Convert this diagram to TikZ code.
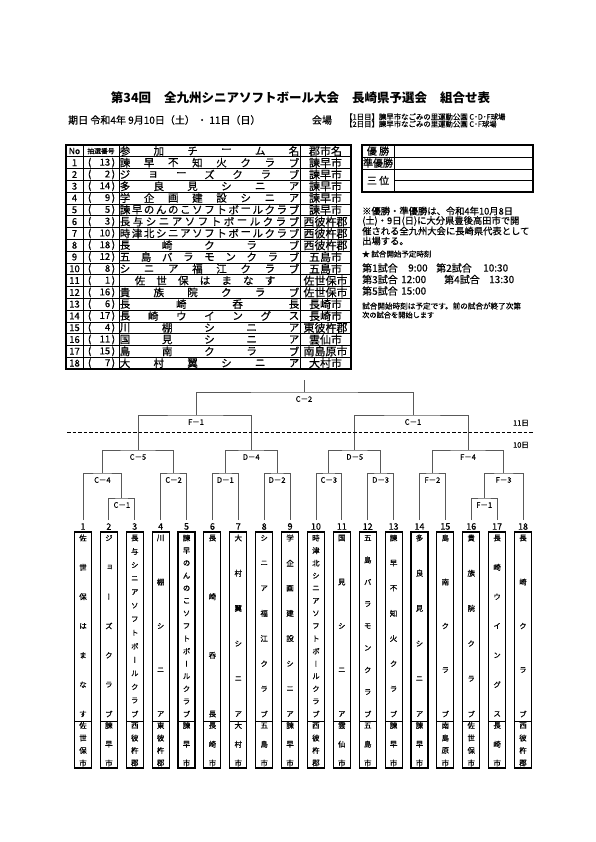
\documentclass[tikz,border=0pt]{standalone}
\usepackage{fontspec}
\setmainfont{Noto Sans CJK JP}
\newfontfamily\jpm[FakeBold=0.5]{Noto Sans CJK JP}
\newfontfamily\vjp[RawFeature=+vert,FakeBold=0.5]{Noto Sans CJK JP}
\usetikzlibrary{calc}

\newcommand\hdist[6]{%
  \edef\tmplist{#4}%
  \foreach \ch [count=\k] in \tmplist {\xdef\ncount{\k}}%
  \foreach \ch [count=\k] in \tmplist {%
    \pgfmathsetmacro\hx{#2+(#3-#2)*(\k-1)/max(\ncount-1,1)}%
    \node[#6] (#5-\k) at (\hx,#1) {\ch};
  }%
}
\newcommand\vdist[6]{%
  \edef\tmplist{#4}%
  \foreach \ch [count=\k] in \tmplist {\xdef\ncount{\k}}%
  \foreach \ch [count=\k] in \tmplist {%
    \pgfmathsetmacro\vy{#2+(#3-#2)*(\k-1)/max(\ncount-1,1)}%
    \node[#6] (#5-\k) at (#1,\vy) {\ch};
  }%
}

\tikzset{
  fs/.style={font=\jpm\fontsize{#1}{#1}\selectfont},
  tabtxt/.style={inner sep=0pt, fs=10.5},
  citytxt/.style={inner sep=0pt, fs=11},
  notxt/.style={inner sep=0pt, fs=9.5},
  boxtxt/.style={inner sep=0pt, font=\vjp\fontsize{7.5}{7.5}\selectfont},
  numtxt/.style={inner sep=0pt, fs=9},
  mlabel/.style={inner sep=0pt, fs=7.5},
  note/.style={inner sep=0pt, anchor=west},
  thinl/.style={line width=0.6pt, black},
  thickl/.style={line width=1.2pt, black},
  bline/.style={line width=0.8pt, black!65},
  leafbox/.style={draw=black, line width=1.1pt, minimum width=17pt, minimum height=236pt, inner sep=0pt, outer sep=0pt},
  boxline/.style={line width=0.9pt, black},
}

\begin{document}
\begin{tikzpicture}[x=1pt,y=-1pt]
\useasboundingbox (0,0) rectangle (595,842);
\fill[white] (0,0) rectangle (595,842);

% ---- title ----
\node[inner sep=0pt, font=\bfseries\fontsize{12.5}{12.5}\selectfont] (t1) at (131,98) {第34回};
\node[inner sep=0pt, font=\bfseries\fontsize{12.5}{12.5}\selectfont] (t2) at (251.5,98) {全九州シニアソフトボール大会};
\node[inner sep=0pt, font=\bfseries\fontsize{12.5}{12.5}\selectfont] (t3) at (389.5,98) {長崎県予選会};
\node[inner sep=0pt, font=\bfseries\fontsize{12.5}{12.5}\selectfont] (t4) at (465,98) {組合せ表};

\node[note, fs=10] (date) at (68,120) {期日 令和4年 9月10日（土） ・ 11日（日）};
\node[inner sep=0pt, fs=10] (kaijo) at (322,120) {会場};
\node[note, fs=7.4] (v1) at (345,116.8) {【1日目】諫早市なごみの里運動公園 C･D･F球場};
\node[note, fs=7.4] (v2) at (345,124) {【2日目】諫早市なごみの里運動公園 C･F球場};

% ---- table ----
\foreach \kk in {1,...,18} \draw[thinl] (66,{145+11.79*\kk}) -- (351,{145+11.79*\kk});
\foreach \xv in {83,119,300} \draw[thinl] (\xv,145) -- (\xv,369);
\draw[thickl] (66,145) rectangle (351,369);

\node[inner sep=0pt, fs=8.5] (hno) at (74.5,151) {No};
\node[inner sep=0pt, fs=6.8] (hlot) at (101,151) {抽選番号};
\hdist{151}{125}{294}{参,加,チ,ー,ム,名}{hname}{tabtxt}
\node[citytxt] (hcity) at (325.5,151) {郡市名};

\foreach \no/\lot/\xa/\xb/\nm/\city [count=\r] in {
 1/13/125/294/{諫,早,不,知,火,ク,ラ,ブ}/諫早市,
 2/2/125/294/{ジ,ョ,ー,ズ,ク,ラ,ブ}/諫早市,
 3/14/125/294/{多,良,見,シ,ニ,ア}/諫早市,
 4/9/125/294/{学,企,画,建,設,シ,ニ,ア}/諫早市,
 5/5/125/294/{諫,早,の,ん,の,こ,ソ,フ,ト,ボ,ー,ル,ク,ラ,ブ}/諫早市,
 6/3/125/294/{長,与,シ,ニ,ア,ソ,フ,ト,ボ,ー,ル,ク,ラ,ブ}/西彼杵郡,
 7/10/125/294/{時,津,北,シ,ニ,ア,ソ,フ,ト,ボ,ー,ル,ク,ラ,ブ}/西彼杵郡,
 8/18/125/294/{長,崎,ク,ラ,ブ}/西彼杵郡,
 9/12/125/294/{五,島,バ,ラ,モ,ン,ク,ラ,ブ}/五島市,
 10/8/125/294/{シ,ニ,ア,福,江,ク,ラ,ブ}/五島市,
 11/1/140/270/{佐,世,保,は,ま,な,す}/佐世保市,
 12/16/125/294/{貴,族,院,ク,ラ,ブ}/佐世保市,
 13/6/125/294/{長,崎,呑,長}/長崎市,
 14/17/125/294/{長,崎,ウ,イ,ン,グ,ス}/長崎市,
 15/4/125/294/{川,棚,シ,ニ,ア}/東彼杵郡,
 16/11/125/294/{国,見,シ,ニ,ア}/雲仙市,
 17/15/125/294/{島,南,ク,ラ,ブ}/南島原市,
 18/7/125/294/{大,村,翼,シ,ニ,ア}/大村市}{
  \pgfmathsetmacro\yy{145+11.79*(\r+0.5)}
  \node[notxt] (no\r) at (74.5,\yy) {\no};
  \node[notxt] (lot\r) at (101.5,\yy) {\makebox[27pt]{(\hfill\lot\,)}};
  \hdist{\yy}{\xa}{\xb}{\nm}{tm\r}{tabtxt}
  \node[citytxt] (ct\r) at (325.5,\yy) {\city};
}

% ---- result box ----
\draw[thinl] (362,157) -- (533,157);
\draw[thinl] (362,169) -- (533,169);
\draw[thinl] (394,180.5) -- (533,180.5);
\draw[thinl] (394,145) -- (394,192);
\draw[thickl] (362,145) rectangle (533,192);
\node[inner sep=0pt, fs=10] (yu) at (378,151) {優 勝};
\node[inner sep=0pt, fs=10] (jyu) at (378,163) {準優勝};
\node[inner sep=0pt, fs=10] (san) at (378,180.5) {三 位};

% ---- notes ----
\node[note, fs=9.3] (n1) at (362,211) {※優勝・準優勝は、令和4年10月8日};
\node[note, fs=9.3] (n2) at (362,221) {(土)・9日(日)に大分県豊後高田市で開};
\node[note, fs=9.3] (n3) at (362,231) {催される全九州大会に長崎県代表として};
\node[note, fs=9.3] (n4) at (362,241) {出場する。};
\node[note, fs=7.5] (st) at (362,254) {★ 試合開始予定時刻};
\node[note, fs=10] (g1) at (362,268) {第1試合};
\node[note, fs=10] (g1t) at (408,268) {9:00};
\node[note, fs=10] (g2) at (436,268) {第2試合};
\node[note, fs=10] (g2t) at (483,268) {10:30};
\node[note, fs=10] (g3) at (362,279.5) {第3試合};
\node[note, fs=10] (g3t) at (401,279.5) {12:00};
\node[note, fs=10] (g4) at (444,279.5) {第4試合};
\node[note, fs=10] (g4t) at (489,279.5) {13:30};
\node[note, fs=10] (g5) at (362,291) {第5試合};
\node[note, fs=10] (g5t) at (401,291) {15:00};
\node[note, fs=7.6] (s1) at (362,306) {試合開始時刻は予定です。前の試合が終了次第};
\node[note, fs=7.2] (s2) at (362,315) {次の試合を開始します};

% ---- leaves ----
\foreach \i/\nm/\ct in {
 1/{佐,世,保,は,ま,な,す}/{佐,世,保,市},
 2/{ジ,ョ,ー,ズ,ク,ラ,ブ}/{諫,早,市},
 3/{長,与,シ,ニ,ア,ソ,フ,ト,ボ,ー,ル,ク,ラ,ブ}/{西,彼,杵,郡},
 4/{川,棚,シ,ニ,ア}/{東,彼,杵,郡},
 5/{諫,早,の,ん,の,こ,ソ,フ,ト,ボ,ー,ル,ク,ラ,ブ}/{諫,早,市},
 6/{長,崎,呑,長}/{長,崎,市},
 7/{大,村,翼,シ,ニ,ア}/{大,村,市},
 8/{シ,ニ,ア,福,江,ク,ラ,ブ}/{五,島,市},
 9/{学,企,画,建,設,シ,ニ,ア}/{諫,早,市},
 10/{時,津,北,シ,ニ,ア,ソ,フ,ト,ボ,ー,ル,ク,ラ,ブ}/{西,彼,杵,郡},
 11/{国,見,シ,ニ,ア}/{雲,仙,市},
 12/{五,島,バ,ラ,モ,ン,ク,ラ,ブ}/{五,島,市},
 13/{諫,早,不,知,火,ク,ラ,ブ}/{諫,早,市},
 14/{多,良,見,シ,ニ,ア}/{諫,早,市},
 15/{島,南,ク,ラ,ブ}/{南,島,原,市},
 16/{貴,族,院,ク,ラ,ブ}/{佐,世,保,市},
 17/{長,崎,ウ,イ,ン,グ,ス}/{長,崎,市},
 18/{長,崎,ク,ラ,ブ}/{西,彼,杵,郡}}{
  \pgfmathsetmacro\xx{83+(\i-1)*25.882}
  \coordinate (L\i) at (\xx,520);
  \node[numtxt] (n\i) at (\xx,526.5) {\i};
  \node[leafbox] (b\i) at (\xx,650) {};
  \draw[boxline] ({\xx-8.5},721) -- ({\xx+8.5},721);
  \vdist{\xx}{538}{714}{\nm}{bn\i}{boxtxt}
  \vdist{\xx}{725.5}{763}{\ct}{bc\i}{boxtxt}
}

% ---- bracket junctions ----
\coordinate (jC1b) at (121.82,498);
\coordinate (jF1b) at (484.18,498);
\coordinate (jC4) at (102.41,473);
\coordinate (jC2b) at (173.59,473);
\coordinate (jD1) at (225.35,473);
\coordinate (jD2) at (277.12,473);
\coordinate (jC3) at (328.88,473);
\coordinate (jD3) at (380.65,473);
\coordinate (jF2) at (432.41,473);
\coordinate (jF3) at (503.59,473);
\coordinate (jC5) at (138,450);
\coordinate (jD4) at (251.24,450);
\coordinate (jD5) at (354.76,450);
\coordinate (jF4) at (468,450);
\coordinate (jF1) at (196,415);
\coordinate (jC1) at (413,415);
\coordinate (jC2) at (304,392);
\coordinate (top) at (304,380);

\draw[bline] (L2) |- (jC1b) -| (L3);
\draw[bline] (L16) |- (jF1b) -| (L17);
\draw[bline] (L1) |- (jC4) -| (jC1b);
\draw[bline] (L4) |- (jC2b) -| (L5);
\draw[bline] (L6) |- (jD1) -| (L7);
\draw[bline] (L8) |- (jD2) -| (L9);
\draw[bline] (L10) |- (jC3) -| (L11);
\draw[bline] (L12) |- (jD3) -| (L13);
\draw[bline] (L14) |- (jF2) -| (L15);
\draw[bline] (jF1b) |- (jF3) -| (L18);
\draw[bline] (jC4) |- (jC5) -| (jC2b);
\draw[bline] (jD1) |- (jD4) -| (jD2);
\draw[bline] (jC3) |- (jD5) -| (jD3);
\draw[bline] (jF2) |- (jF4) -| (jF3);
\draw[bline] (jC5) |- (jF1) -| (jD4);
\draw[bline] (jD5) |- (jC1) -| (jF4);
\draw[bline] (jF1) |- (jC2) -| (jC1);
\draw[bline] (jC2) -- (top);

% ---- match labels ----
\foreach \j/\t in {jC1b/C－1, jF1b/F－1, jC4/C－4, jC2b/C－2, jD1/D－1, jD2/D－2, jC3/C－3, jD3/D－3, jF2/F－2, jF3/F－3, jC5/C－5, jD4/D－4, jD5/D－5, jF4/F－4, jF1/F－1, jC1/C－1, jC2/C－2}{
  \node[mlabel] (lab-\j) at ($(\j)+(0,7)$) {\t};
}

% ---- day divider ----
\coordinate (dl) at (67,432);
\coordinate (dr) at (533,432);
\draw[line width=0.9pt, black, dash pattern=on 3.5pt off 2pt] (dl) -- (dr);
\node[inner sep=0pt, fs=7.5] (d11) at (521,423) {11日};
\node[inner sep=0pt, fs=7.5] (d10) at (521,445) {10日};
\end{tikzpicture}
\end{document}
